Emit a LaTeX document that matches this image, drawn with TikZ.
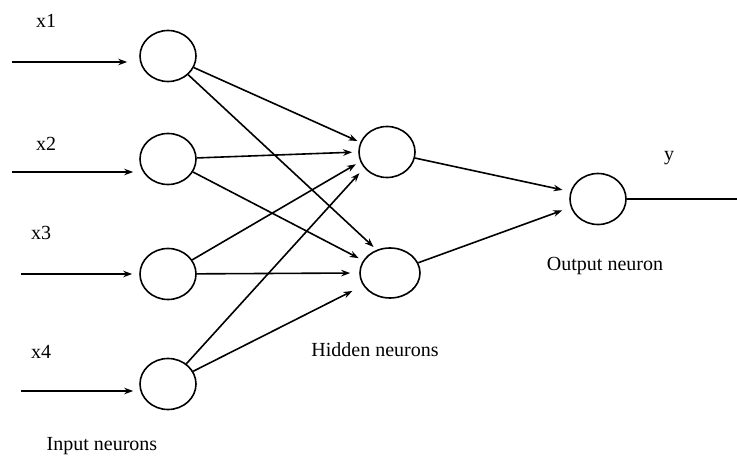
\documentclass[tikz,border=0pt]{standalone}
\usepackage{fontspec}
\setmainfont{Liberation Serif}
\usetikzlibrary{shapes.geometric,arrows.meta}
\begin{document}
\begin{tikzpicture}[x=1pt,y=-1pt,
  neuron/.style={draw,ellipse,line width=1.6pt,inner sep=0pt,minimum width=56pt,minimum height=51pt},
  arr/.style={line width=1.6pt,-{Stealth[length=9pt,width=6.5pt]}},
  plain/.style={line width=1.8pt},
  lbl/.style={inner sep=0pt,font=\fontsize{20}{24}\selectfont}]
\useasboundingbox (0,0) rectangle (737,457);
% input neurons
\node[neuron] (i1) at (168,56) {};
\node[neuron] (i2) at (168,159) {};
\node[neuron] (i3) at (168,274) {};
\node[neuron] (i4) at (168,384) {};
% hidden neurons
\node[neuron] (h1) at (387,152) {};
\node[neuron,minimum width=60pt,minimum height=50pt] (h2) at (390,273) {};
% output neuron
\node[neuron] (o) at (598,199) {};
% input lines
\coordinate (s1) at (12,62);
\coordinate (s2) at (12,172);
\coordinate (s3) at (21,274);
\coordinate (s4) at (21,391);
\coordinate (e) at (737,199);
\draw[arr,shorten >=12pt] (s1) -- (s1 -| i1.west);
\draw[arr,shorten >=6pt] (s2) -- (s2 -| i2.west);
\draw[arr,shorten >=7pt] (s3) -- (s3 -| i3.west);
\draw[arr,shorten >=6pt] (s4) -- (s4 -| i4.west);
% input -> hidden
\draw[arr,shorten >=3pt] (i1) -- (h1.160);
\draw[arr,shorten >=6pt] (i2) -- (h1.180);
\draw[arr,shorten >=5pt] (i3) -- (h1.200);
\draw[arr,shorten >=7pt] (i4) -- (h1.215);
\draw[arr,shorten >=4pt] (i1) -- (h2.120);
\draw[arr,shorten >=5pt] (i2) -- (h2.155);
\draw[arr,shorten >=9pt] (i3) -- (h2.180);
\draw[arr,shorten >=12pt] (i4) -- (h2.205);
% hidden -> output
\draw[arr,shorten >=8pt] (h1) -- (o.165);
\draw[arr,shorten >=9pt] (h2) -- (o.197);
\draw[plain] (o.east) -- (e);
% labels
\node[lbl] (l1) at (46,21) {x1};
\node[lbl] (l2) at (46,144) {x2};
\node[lbl] (l3) at (41,233) {x3};
\node[lbl] (l4) at (41,352) {x4};
\node[lbl] (ly) at (669,158) {y};
\node[lbl] (lin) at (102,446) {Input neurons};
\node[lbl] (lhid) at (375,350) {Hidden neurons};
\node[lbl] (lout) at (605,266) {Output neuron};
\end{tikzpicture}
\end{document}
